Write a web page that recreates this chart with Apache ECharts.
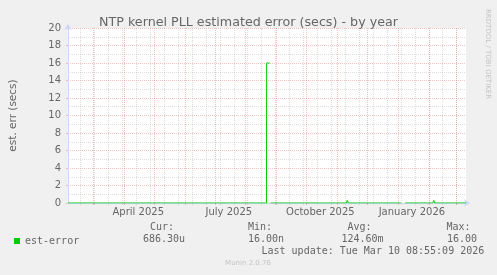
<!DOCTYPE html>
<html><head><meta charset="utf-8">
<script src="https://cdn.jsdelivr.net/npm/echarts@6/dist/echarts.min.js"></script>
<style>html,body{margin:0;padding:0;background:#f0f0f0}#c{width:497px;height:275px}</style>
</head><body><div id="c"></div>
<script>
// ---- data ----
const titleText = 'NTP kernel PLL estimated error (secs) - by year';
const yAxisName = 'est. err (secs)';
const seriesName = 'est-error';
const startTime = '2025-02-03T08:55:09';
const endTime = '2026-03-10T08:55:09';
const sampleDates = [
  '2025-02-03T08:55:09', '2025-08-12', '2025-08-13', '2025-08-14',
  '2025-08-21T20:00:00', '2025-08-22', '2025-08-25', '2025-08-25T12:00:00',
  '2025-08-26', '2025-08-27', '2025-08-28',
  '2025-10-14', '2025-10-15', '2025-10-16',
  '2025-10-22', '2025-10-23', '2025-10-24',
  '2025-11-10', '2025-11-11', '2025-11-12',
  '2025-12-04', '2025-12-05', '2025-12-06',
  '2026-01-04', '2026-01-05', '2026-01-08',
  '2026-02-05', '2026-02-06', '2026-02-07',
  '2026-02-15', '2026-02-16', '2026-02-17',
  '2026-03-10T08:55:09'
];
const errorValues = [
  0, 0, 0.18, 0,
  0, 16, 16, null,
  0, 0.18, 0,
  0, 0.18, 0,
  0, 0.18, 0,
  0, 0.3, 0,
  0, 0.18, 0,
  0, null, 0,
  0, 0.3, 0,
  0, 0.18, 0,
  0.000686
];
const monthStarts = ['2025-03-01','2025-04-01','2025-05-01','2025-06-01','2025-07-01','2025-08-01',
  '2025-09-01','2025-10-01','2025-11-01','2025-12-01','2026-01-01','2026-02-01','2026-03-01'];
const firstMinorGrid = '2025-02-16';
const minorGridDays = 14;
const labelDates = ['2025-04-15','2025-07-15','2025-10-15','2026-01-15'];
const labelTexts = ['April 2025','July 2025','October 2025','January 2026'];
const yMin = 0, yMax = 20, yStep = 2;
const statHeaders = ['Cur:', 'Min:', 'Avg:', 'Max:'];
const statValues = ['686.30u', '16.00n', '124.60m', '16.00'];
const lastUpdate = 'Last update: Tue Mar 10 08:55:09 2026';
const footerText = 'Munin 2.0.76';
const watermark = 'RRDTOOL / TOBI OETIKER';

// ---- helpers ----
function t(s){ return Date.parse(s.length === 10 ? s + 'T00:00:00Z' : s + 'Z'); }
const tMin = t(startTime), tMax = t(endTime);
const DAY = 86400000;
const minorGrid = [];
for (let v = t(firstMinorGrid); v <= tMax; v += minorGridDays * DAY) minorGrid.push(v);
const labelVals = labelDates.map(t);

const FONT = '#666666';
const AXIS = '#CFD6F8';
const MAJOR = 'rgba(228,130,130,0.5)';
const MINOR = 'rgba(175,175,175,0.42)';
const MONO = '"DejaVu Sans Mono", monospace';
const SANS = '"DejaVu Sans", sans-serif';

const chart = echarts.init(document.getElementById('c'), null, {renderer: 'canvas'});
const headerX = [150, 248, 347.5, 446.5];
const valueX = [143, 248, 341.5, 447];
const graphics = [];
statHeaders.forEach((h, i) => graphics.push({type:'text', left: headerX[i], top: 222.5,
  style:{text:h, font:'10px ' + MONO, fill: FONT}}));
statValues.forEach((h, i) => graphics.push({type:'text', left: valueX[i], top: 234.5,
  style:{text:h, font:'10px ' + MONO, fill: FONT}}));
graphics.push({type:'text', left: 261.5, top: 246.5, style:{text:lastUpdate, font:'10px ' + MONO, fill: FONT}});
graphics.push({type:'text', x: 248, y: 263, style:{text:footerText, font:'7px ' + SANS, fill:'#c4c4c4', align:'center', verticalAlign:'middle'}});
graphics.push({type:'text', x: 488, y: 54, rotation: -Math.PI/2, style:{text:watermark, font:'7px ' + SANS, fill:'#c4c4c4', align:'center', verticalAlign:'middle'}});

chart.setOption({
  animation: false,
  backgroundColor: '#f0f0f0',
  title: {text: titleText, left: 'center', top: 11, textStyle:{fontFamily: SANS, fontSize: 12.7, fontWeight:'normal', color: FONT}},
  grid: {left: 66, top: 28, width: 400, height: 175, show: true, backgroundColor:'#ffffff', borderWidth: 0},
  legend: {data:[seriesName], left: 9, top: 231, icon:'rect', itemWidth: 6, itemHeight: 6, itemGap: 4,
    textStyle:{fontFamily: MONO, fontSize: 10, color: FONT}},
  xAxis: [{
    type:'value', min: tMin, max: tMax, z: 1,
    axisLine:{show:true, lineStyle:{color: AXIS}, symbol:['none','arrow'], symbolSize:[6,6], symbolOffset:[0,4]},
    axisTick:{show:true, length:2, customValues: monthStarts.map(t), lineStyle:{color: MAJOR}},
    axisLabel:{show:true, customValues: labelVals, margin: 4, fontFamily: SANS, fontSize: 10, color: FONT,
      formatter: v => { const i = labelVals.indexOf(v); return i >= 0 ? labelTexts[i] : ''; }},
    splitLine:{show:true, lineStyle:{color: MAJOR, type:'dotted'}}
  },{
    type:'value', min: tMin, max: tMax, position:'bottom', z: 0,
    axisLine:{show:false}, axisLabel:{show:false},
    axisTick:{show:true, length:2, customValues: minorGrid, lineStyle:{color: MINOR}},
    splitLine:{show:true, lineStyle:{color: MINOR, type:'dotted'}}
  }],
  yAxis: {
    type:'value', min: yMin, max: yMax, interval: yStep,
    name: yAxisName, nameLocation:'middle', nameGap: 49, nameRotate: 90,
    nameTextStyle:{fontFamily: SANS, fontSize: 10.5, color: FONT},
    axisLine:{show:true, lineStyle:{color: AXIS}, symbol:['none','arrow'], symbolSize:[6,6], symbolOffset:[0,4]},
    axisTick:{show:true, length:2, lineStyle:{color: MAJOR}},
    axisLabel:{fontFamily: SANS, fontSize: 10, color: FONT, margin: 7},
    splitLine:{show:true, lineStyle:{color: MAJOR, type:'dotted'}},
    minorTick:{show:false, splitNumber: 2},
    minorSplitLine:{show:true, lineStyle:{color: MINOR, type:'dotted'}}
  },
  series: [{
    name: seriesName, type:'line', xAxisIndex: 0, z: 3,
    data: sampleDates.map((d, i) => [t(d), errorValues[i]]),
    showSymbol:false, symbol:'none', connectNulls:false,
    itemStyle:{color:'#00cc00'}, lineStyle:{color:'#00cc00', width:1}
  }],
  graphic: graphics
});
</script>
</body></html>
